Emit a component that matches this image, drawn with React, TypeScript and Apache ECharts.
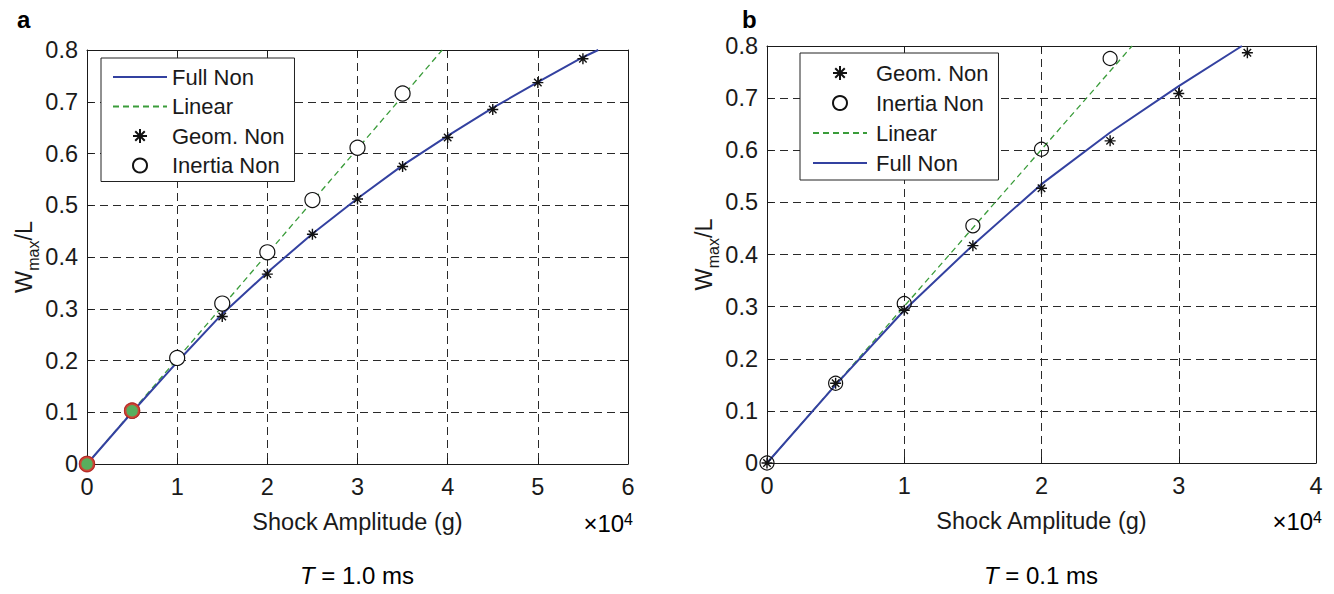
import React, { useEffect, useRef } from "react";
import * as echarts from "echarts";

// ---- Panel a (T = 1.0 ms), amplitude in units of 10^4 g ----
const geomAmpA = [0, 0.5, 1, 1.5, 2, 2.5, 3, 3.5, 4, 4.5, 5, 5.5];
const geomA = [0, 0.102, 0.2, 0.285, 0.367, 0.444, 0.512, 0.575, 0.631, 0.685, 0.737, 0.783];
const inertiaAmpA = [0, 0.5, 1, 1.5, 2, 2.5, 3, 3.5];
const inertiaA = [0, 0.103, 0.205, 0.31, 0.409, 0.51, 0.611, 0.716];
const fullAmpA = [0, 0.5, 1, 1.5, 2, 2.5, 3, 3.5, 4, 4.5, 5, 5.5, 5.67];
const fullA = [0, 0.1, 0.197, 0.29, 0.37, 0.445, 0.513, 0.577, 0.634, 0.688, 0.738, 0.786, 0.8];
const linearAmpA = [0, 3.94];
const linearA = [0, 0.8];
const markAmpA = [0, 0.5];
const markA = [0, 0.103];

// ---- Panel b (T = 0.1 ms) ----
const geomAmpB = [0, 0.5, 1, 1.5, 2, 2.5, 3, 3.5];
const geomB = [0, 0.153, 0.293, 0.417, 0.527, 0.618, 0.709, 0.787];
const inertiaAmpB = [0, 0.5, 1, 1.5, 2, 2.5];
const inertiaB = [0, 0.153, 0.306, 0.455, 0.602, 0.776];
const fullAmpB = [0, 0.5, 1, 1.5, 2, 2.5, 3, 3.46];
const fullB = [0, 0.15, 0.293, 0.418, 0.535, 0.634, 0.723, 0.8];
const linearAmpB = [0, 2.66];
const linearB = [0, 0.8];

const legendA = ["Full Non", "Linear", "Geom. Non", "Inertia Non"];
const legendB = ["Geom. Non", "Inertia Non", "Linear", "Full Non"];
const lineNames = ["Full Non", "Linear"];
const xTitle = "Shock Amplitude (g)";
const titleA = " = 1.0 ms";
const titleB = " = 0.1 ms";

const FONT = "'Liberation Sans', Arial, Helvetica, sans-serif";
const FS = 23.5;
const BLUE = "#3341a0";
const GREEN = "#3a9c3a";
const INK = "#1a1a1a";
const STAR = "path://M5,0L5,10M0,5L10,5M1.6,1.6L8.4,8.4M1.6,8.4L8.4,1.6";

const pairs = (xs: number[], ys: number[]) => xs.map((x, i) => [x, ys[i]]);
const legendData = (names: string[]) =>
  names.map((n) => (lineNames.includes(n) ? { name: n, itemStyle: { opacity: 0 } } : { name: n }));

function xAxes(grid: number, max: number) {
  const line = { show: true, onZero: false, lineStyle: { color: INK, width: 1 } };
  const tick = { show: true, inside: true, length: 6, lineStyle: { color: INK } };
  return [
    {
      gridIndex: grid, type: "value", min: 0, max, interval: 1, position: "bottom",
      axisLine: line, axisTick: tick,
      axisLabel: { fontSize: FS, color: INK, fontFamily: FONT, margin: 11 },
      splitLine: { show: true, lineStyle: { type: [8, 5], color: "#2a2a2a", width: 1 } },
      name: xTitle, nameLocation: "middle", nameGap: 46,
      nameTextStyle: { fontSize: FS, color: INK, fontFamily: FONT },
    },
    {
      gridIndex: grid, type: "value", min: 0, max, interval: 1, position: "top",
      axisLine: line, axisTick: tick, axisLabel: { show: false }, splitLine: { show: false },
    },
  ];
}

function yAxes(grid: number) {
  const line = { show: true, onZero: false, lineStyle: { color: INK, width: 1 } };
  const tick = { show: true, inside: true, length: 6, lineStyle: { color: INK } };
  return [
    {
      gridIndex: grid, type: "value", min: 0, max: 0.8, interval: 0.1, position: "left",
      axisLine: line, axisTick: tick,
      axisLabel: {
        fontSize: FS, color: INK, fontFamily: FONT, margin: 9,
        formatter: (v: number) => (v === 0 ? "0" : v.toFixed(1)),
      },
      splitLine: { show: true, lineStyle: { type: [8, 5], color: "#2a2a2a", width: 1 } },
      name: "{n|W}{s|max}{n|/L}", nameLocation: "middle", nameGap: 35, nameRotate: 90,
      nameTextStyle: {
        fontFamily: FONT, color: INK,
        rich: {
          n: { fontSize: FS, fontFamily: FONT, color: INK, padding: [0, 0, 5, 0], verticalAlign: "bottom" },
          s: { fontSize: 16, fontFamily: FONT, color: INK, verticalAlign: "bottom" },
        },
      },
    },
    {
      gridIndex: grid, type: "value", min: 0, max: 0.8, interval: 0.1, position: "right",
      axisLine: line, axisTick: tick, axisLabel: { show: false }, splitLine: { show: false },
    },
  ];
}

function panelSeries(
  xi: number, yi: number,
  geomX: number[], geomY: number[],
  inX: number[], inY: number[],
  fullX: number[], fullY: number[],
  linX: number[], linY: number[],
  circleFill: string, circleSize: number
) {
  return [
    {
      name: "Linear", type: "line", xAxisIndex: xi, yAxisIndex: yi, data: pairs(linX, linY),
      symbol: "none", lineStyle: { color: GREEN, width: 1.3, type: [6, 4] }, itemStyle: { color: GREEN },
      z: 3,
    },
    {
      name: "Full Non", type: "line", xAxisIndex: xi, yAxisIndex: yi, data: pairs(fullX, fullY),
      symbol: "none", lineStyle: { color: BLUE, width: 2 }, itemStyle: { color: BLUE }, z: 4,
    },
    {
      name: "Geom. Non", type: "scatter", xAxisIndex: xi, yAxisIndex: yi, data: pairs(geomX, geomY),
      symbol: STAR, symbolSize: 11,
      itemStyle: { color: "rgba(0,0,0,0)", borderColor: "#111", borderWidth: 1.4, opacity: 1 },
      z: 5,
    },
    {
      name: "Inertia Non", type: "scatter", xAxisIndex: xi, yAxisIndex: yi, data: pairs(inX, inY),
      symbol: "circle", symbolSize: circleSize,
      itemStyle: { color: circleFill, borderColor: "#111", borderWidth: 1.2, opacity: 1 },
      z: 6,
    },
  ];
}

export default function App() {
  const ref = useRef<HTMLDivElement>(null);
  useEffect(() => {
    if (!ref.current) return;
    const chart = echarts.init(ref.current, null, { renderer: "svg" });
    const legendBase = {
      orient: "vertical", selectedMode: false, itemWidth: 54, itemHeight: 14,
      backgroundColor: "#fff", borderColor: "#222", borderWidth: 1,
      textStyle: { fontSize: 22, fontFamily: FONT, color: INK, lineHeight: 22 },
    };
    const titleRich = {
      i: { fontSize: 24, fontStyle: "italic", fontFamily: FONT, color: INK },
      n: { fontSize: 24, fontFamily: FONT, color: INK },
    };
    const expRich = {
      n: { fontSize: 24, fontFamily: FONT, color: INK, verticalAlign: "bottom" },
      p: { fontSize: 16, fontFamily: FONT, color: INK, verticalAlign: "top" },
    };
    chart.setOption({
      animation: false,
      backgroundColor: "#fff",
      grid: [
        { left: 87, top: 50, width: 541, height: 414 },
        { left: 767, top: 46, width: 549, height: 417 },
      ],
      xAxis: [...xAxes(0, 6), ...xAxes(1, 4)],
      yAxis: [...yAxes(0), ...yAxes(1)],
      legend: [
        { ...legendBase, data: legendData(legendA), left: 101, top: 58, itemGap: 7.5, padding: [8, 10, 5, 11] },
        {
          ...legendBase, data: legendData(legendB), left: 800, top: 53, itemGap: 8, padding: [9, 10, 6, 12],
          textStyle: { ...legendBase.textStyle, padding: [0, 0, 0, 4] },
        },
      ],
      series: [
        ...panelSeries(0, 0, geomAmpA, geomA, inertiaAmpA, inertiaA, fullAmpA, fullA, linearAmpA, linearA, "#fff", 15),
        {
          name: "marked", type: "scatter", xAxisIndex: 0, yAxisIndex: 0, data: pairs(markAmpA, markA),
          symbol: "circle", symbolSize: 14,
          itemStyle: { color: "#2e9a34", borderColor: "#e3312b", borderWidth: 2.5 }, z: 8,
        },
        ...panelSeries(2, 2, geomAmpB, geomB, inertiaAmpB, inertiaB, fullAmpB, fullB, linearAmpB, linearB, "rgba(0,0,0,0)", 14),
      ],
      graphic: [
        { type: "text", left: 17, top: 7, style: { text: "a", fontSize: 24, fontWeight: "bold", fontFamily: FONT, fill: "#000" } },
        { type: "text", left: 742, top: 7, style: { text: "b", fontSize: 24, fontWeight: "bold", fontFamily: FONT, fill: "#000" } },
        {
          type: "text", x: 633, y: 523,
          style: { text: "{n|×10}{p|4}", rich: expRich, align: "right", verticalAlign: "middle" },
        },
        {
          type: "text", x: 1322, y: 521,
          style: { text: "{n|×10}{p|4}", rich: expRich, align: "right", verticalAlign: "middle" },
        },
        {
          type: "text", x: 357, y: 575,
          style: { text: "{i|T}{n|" + titleA + "}", rich: titleRich, align: "center", verticalAlign: "middle" },
        },
        {
          type: "text", x: 1041, y: 575,
          style: { text: "{i|T}{n|" + titleB + "}", rich: titleRich, align: "center", verticalAlign: "middle" },
        },
      ],
    });
    return () => chart.dispose();
  }, []);
  return (
    <div
      ref={ref}
      style={{ position: "fixed", left: 0, top: 0, width: 1334, height: 594, background: "#fff" }}
    />
  );
}
